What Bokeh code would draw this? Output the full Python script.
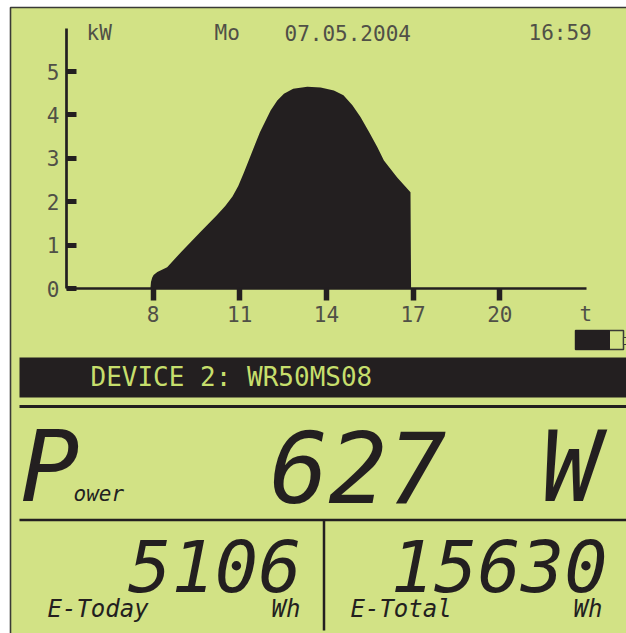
from bokeh.plotting import figure
from bokeh.models import Range1d, LinearAxis, FixedTicker
from bokeh.core.properties import value
from bokeh.embed import file_html
from bokeh.resources import INLINE

# ---------------- data ----------------
hours = [7.91, 7.93, 7.97, 8.02, 8.15, 8.49, 9.0, 9.64, 10.2, 10.5, 10.75, 10.95,
         11.15, 11.4, 11.7, 12.07, 12.3, 12.53, 12.85, 13.34, 13.8, 14.26, 14.59,
         14.9, 15.18, 15.5, 15.76, 15.99, 16.45, 16.91, 16.93]
power_kw = [0.0, 0.15, 0.25, 0.31, 0.38, 0.49, 0.86, 1.30, 1.68, 1.90, 2.12, 2.36,
            2.68, 3.10, 3.60, 4.10, 4.33, 4.49, 4.60, 4.65, 4.63, 4.56, 4.45,
            4.22, 3.95, 3.58, 3.26, 2.95, 2.56, 2.22, 0.0]
x_ticks = [8, 11, 14, 17, 20]
y_ticks = [0, 1, 2, 3, 4, 5]
x_bounds = (5, 23)
y_bounds = (0, 6)
y_unit = "kW"
x_unit = "t"
day_name = "Mo"
date_text = "07.05.2004"
time_text = "16:59"
device_text = "DEVICE 2: WR50MS08"
power_label = ["P", "ower"]
power_value = "627"
power_unit = "W"
e_today_value = "5106"
e_total_value = "15630"
e_today_label = "E-Today"
e_total_label = "E-Total"
energy_unit = "Wh"

# ---------------- style ----------------
W, H = 626, 633
LCD = "#d2e285"
INK = "#231f20"
DOT = "#505047"
BAND_TXT = "#c6de6c"
MONO = "DejaVu Sans Mono"

# chart placement on the canvas (pixels)
X8, PX_H = 152.5, 28.9    # x pixel of hour 8, pixels per hour
Y0, PX_KW = 288.0, 43.4   # y pixel of 0 kW, pixels per kW

p = figure(width=W, height=H, x_range=Range1d(0, W), y_range=Range1d(H, 0),
           output_backend="svg", toolbar_location=None,
           x_axis_type=None, y_axis_type=None, min_border=0)
p.outline_line_color = None
p.background_fill_color = "white"
p.border_fill_color = "white"
p.extra_x_ranges = {"h": Range1d(8 - X8 / PX_H, 8 + (W - X8) / PX_H)}
p.extra_y_ranges = {"kw": Range1d(-(H - Y0) / PX_KW, Y0 / PX_KW)}

# LCD panel
p.quad(left=10, right=W + 10, top=7, bottom=H + 10, fill_color=LCD,
       line_color="#3a3a36", line_width=1.6)

# power curve
p.varea(x=hours, y1=[0] * len(hours), y2=power_kw, x_range_name="h",
        y_range_name="kw", fill_color=INK)

# axes
xax = LinearAxis(x_range_name="h", y_range_name="kw", fixed_location=0,
                 bounds=x_bounds, ticker=FixedTicker(ticks=x_ticks))
yax = LinearAxis(x_range_name="h", y_range_name="kw", fixed_location=x_bounds[0],
                 bounds=y_bounds, ticker=FixedTicker(ticks=y_ticks))
for ax in (xax, yax):
    ax.axis_line_color = INK
    ax.axis_line_width = 2.7
    ax.major_tick_line_color = INK
    ax.minor_tick_line_color = None
    ax.major_label_text_font = MONO
    ax.major_label_text_font_size = "21px"
    ax.major_label_text_color = DOT
xax.major_tick_in = 0
xax.major_tick_out = 12
xax.major_tick_line_width = 5.5
xax.major_label_standoff = 5
yax.major_tick_in = 10
yax.major_tick_out = 0
yax.major_tick_line_width = 5
yax.major_label_standoff = 7
p.add_layout(xax, "below")
p.add_layout(yax, "left")


def txt(x, y, s, size, color=INK, font=MONO, style="normal", align="left"):
    p.text(x=[x], y=[y], text=[s], text_font=value(font), text_font_size=value(size),
           text_color=color, text_font_style=style, text_align=align,
           text_baseline="middle")


# header line
txt(86, 32, y_unit, "21px", DOT)
txt(214, 32, day_name, "21px", DOT)
txt(284, 32, date_text, "21px", DOT)
txt(528, 32, time_text, "21px", DOT)
txt(579, 313, x_unit, "21px", DOT)

# battery symbol
p.quad(left=575, right=623, top=330, bottom=349, fill_color=LCD,
       line_color="#3a3a36", line_width=1.5)
p.quad(left=575, right=609, top=330, bottom=349, fill_color=INK, line_color=INK)
p.quad(left=623, right=627, top=337, bottom=344, fill_color=LCD,
       line_color="#3a3a36", line_width=1.2)

# device band
p.quad(left=19, right=W + 5, top=357, bottom=397, fill_color=INK, line_color=None)
txt(90, 376, device_text, "26px", BAND_TXT)

# separators
p.segment(x0=[19], y0=[406], x1=[W + 5], y1=[406], line_width=3, line_color=INK)
p.segment(x0=[19], y0=[519.5], x1=[W + 5], y1=[519.5], line_width=2.5, line_color=INK)
p.segment(x0=[323.5], y0=[519], x1=[323.5], y1=[630], line_width=2.5, line_color=INK)

# power row
txt(20, 466, power_label[0], "98px", style="italic")
txt(73, 493, power_label[1], "21px", style="italic")
txt(269, 466, power_value, "98px", style="italic")
txt(541, 466, power_unit, "98px", style="italic")

# energy rows
txt(301, 565, e_today_value, "72px", style="italic", align="right")
txt(607, 565, e_total_value, "72px", style="italic", align="right")
txt(47, 608, e_today_label, "24px", style="italic")
txt(300, 608, energy_unit, "24px", style="italic", align="right")
txt(350, 608, e_total_label, "24px", style="italic")
txt(602, 608, energy_unit, "24px", style="italic", align="right")

open("out.html", "w").write(file_html(p, INLINE))
